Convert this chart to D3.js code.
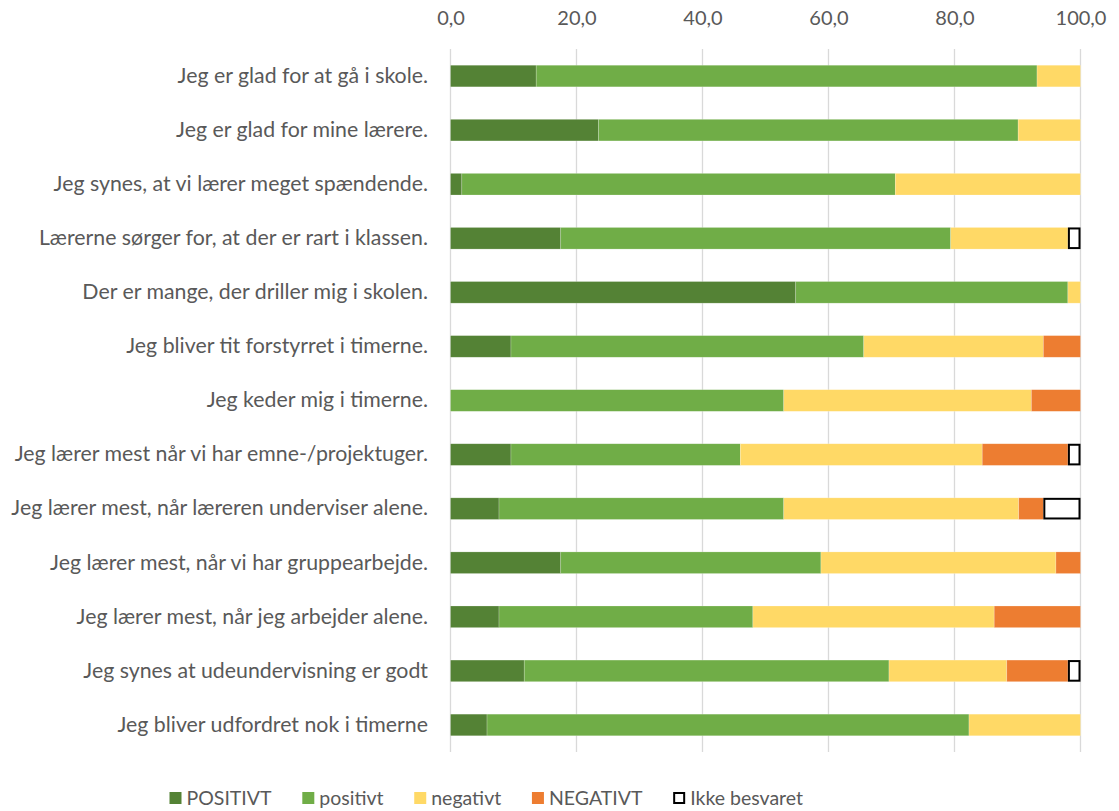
<!DOCTYPE html>
<html lang="da">
<head>
<meta charset="utf-8">
<script src="https://cdn.jsdelivr.net/npm/d3@7"></script>
<style>
  html, body { margin: 0; padding: 0; background: #fff; }
  svg { display: block; font-family: Lato, "Open Sans", sans-serif; }
</style>
</head>
<body>
<svg id="chart" width="1119" height="811"></svg>
<script>
// Survey statements (top to bottom)
const categories = [
  "Jeg er glad for at gå i skole.",
  "Jeg er glad for mine lærere.",
  "Jeg synes, at vi lærer meget spændende.",
  "Lærerne sørger for, at der er rart i klassen.",
  "Der er mange, der driller mig i skolen.",
  "Jeg bliver tit forstyrret i timerne.",
  "Jeg keder mig i timerne.",
  "Jeg lærer mest når vi har emne-/projektuger.",
  "Jeg lærer mest, når læreren underviser alene.",
  "Jeg lærer mest, når vi har gruppearbejde.",
  "Jeg lærer mest, når jeg arbejder alene.",
  "Jeg synes at udeundervisning er godt",
  "Jeg bliver udfordret nok i timerne"
];

// Answer shares in percent, one array per answer category
const seriesNames = ["POSITIVT", "positivt", "negativt", "NEGATIVT", "Ikke besvaret"];
const positivtStor = [13.6, 23.5, 1.8, 17.5, 54.8, 9.6, 0.0, 9.6, 7.7, 17.5, 7.7, 11.7, 5.8];
const positivtLille = [79.5, 66.6, 68.8, 61.9, 43.2, 56.0, 52.9, 36.4, 45.2, 41.3, 40.3, 57.9, 76.5];
const negativtLille = [6.9, 9.9, 29.4, 18.6, 2.0, 28.5, 39.3, 38.4, 37.3, 37.3, 38.3, 18.7, 17.7];
const negativtStor = [0.0, 0.0, 0.0, 0.0, 0.0, 5.9, 7.8, 13.6, 3.9, 3.9, 13.7, 9.7, 0.0];
const ikkeBesvaret = [0.0, 0.0, 0.0, 2.0, 0.0, 0.0, 0.0, 2.0, 5.9, 0.0, 0.0, 2.0, 0.0];

const xTicks = [0, 20, 40, 60, 80, 100];

const colors = ["#548235", "#70AD47", "#FFD966", "#ED7D31", "#FFFFFF"];

const rows = categories.map((c, i) => ({
  category: c,
  "POSITIVT": positivtStor[i],
  "positivt": positivtLille[i],
  "negativt": negativtLille[i],
  "NEGATIVT": negativtStor[i],
  "Ikke besvaret": ikkeBesvaret[i]
}));

const svg = d3.select("#chart");
const textColor = "#595959";
const labelSize = 21.3;
const tickSize = 20;
const legendSize = 19.5;

const x = d3.scaleLinear().domain([0, 100]).range([450.5, 1080.5]);
const y = d3.scaleBand().domain(categories).range([49, 752])
  .paddingInner(0.6).paddingOuter(0.3);

const da = d3.formatLocale({ decimal: ",", thousands: ".", grouping: [3], currency: ["", " kr."] });
const fmt = da.format(".1f");

// Vertical gridlines
svg.append("g")
  .selectAll("line")
  .data(xTicks)
  .join("line")
  .attr("x1", d => x(d)).attr("x2", d => x(d))
  .attr("y1", 49).attr("y2", 752)
  .attr("stroke", "#d9d9d9")
  .attr("stroke-width", 1.3);

// Value axis on top
const xAxis = svg.append("g")
  .attr("transform", "translate(0,18)")
  .call(d3.axisTop(x).tickValues(xTicks).tickFormat(fmt).tickSize(0).tickPadding(0));
xAxis.select(".domain").remove();
xAxis.selectAll("text")
  .attr("fill", textColor)
  .attr("font-size", tickSize)
  .attr("font-family", "Lato, 'Open Sans', sans-serif")
  .attr("dy", "0.35em");

// Category axis
const yAxis = svg.append("g")
  .attr("transform", "translate(428,0)")
  .call(d3.axisLeft(y).tickSize(0).tickPadding(0));
yAxis.select(".domain").remove();
yAxis.selectAll("text")
  .attr("fill", textColor)
  .attr("font-size", labelSize)
  .attr("font-family", "Lato, 'Open Sans', sans-serif");

// Stacked bars
const stacked = d3.stack().keys(seriesNames)(rows);
const layers = svg.append("g")
  .selectAll("g")
  .data(stacked)
  .join("g")
  .attr("fill", (d, i) => colors[i]);

layers.each(function (layer, li) {
  const g = d3.select(this);
  const isOutline = seriesNames[li] === "Ikke besvaret";
  g.selectAll("rect")
    .data(layer.filter(d => d[1] - d[0] > 0))
    .join("rect")
    .attr("x", d => x(d[0]) + (isOutline ? 1 : 0))
    .attr("y", d => y(d.data.category) + (isOutline ? 1 : 0))
    .attr("width", d => x(d[1]) - x(d[0]) - (isOutline ? 2 : 0))
    .attr("height", y.bandwidth() - (isOutline ? 2 : 0))
    .attr("stroke", isOutline ? "#000" : "rgba(255,255,255,0.35)")
    .attr("stroke-width", isOutline ? 2 : 0.6);
});

// Legend: items spread between a fixed start and end
const legendStart = 169.5, legendEnd = 803, swatch = 12, swatchGap = 5;
const legend = svg.append("g").attr("transform", "translate(0,798)");
const items = seriesNames.map((name, i) => {
  const item = legend.append("g");
  const isOutline = name === "Ikke besvaret";
  item.append("rect")
    .attr("x", isOutline ? 1 : 0).attr("y", isOutline ? -5 : -6)
    .attr("width", isOutline ? 10 : swatch).attr("height", isOutline ? 10 : swatch)
    .attr("fill", colors[i])
    .attr("stroke", isOutline ? "#000" : "none")
    .attr("stroke-width", 2);
  const t = item.append("text")
    .attr("x", swatch + swatchGap)
    .attr("dy", "0.35em")
    .attr("fill", textColor)
    .attr("font-size", legendSize)
    .text(name);
  return { item, w: swatch + swatchGap + t.node().getComputedTextLength() };
});
const totalW = d3.sum(items, d => d.w);
const gap = (legendEnd - legendStart - totalW) / (items.length - 1);
let lx = legendStart;
items.forEach(d => {
  d.item.attr("transform", `translate(${lx},0)`);
  lx += d.w + gap;
});
</script>
</body>
</html>
